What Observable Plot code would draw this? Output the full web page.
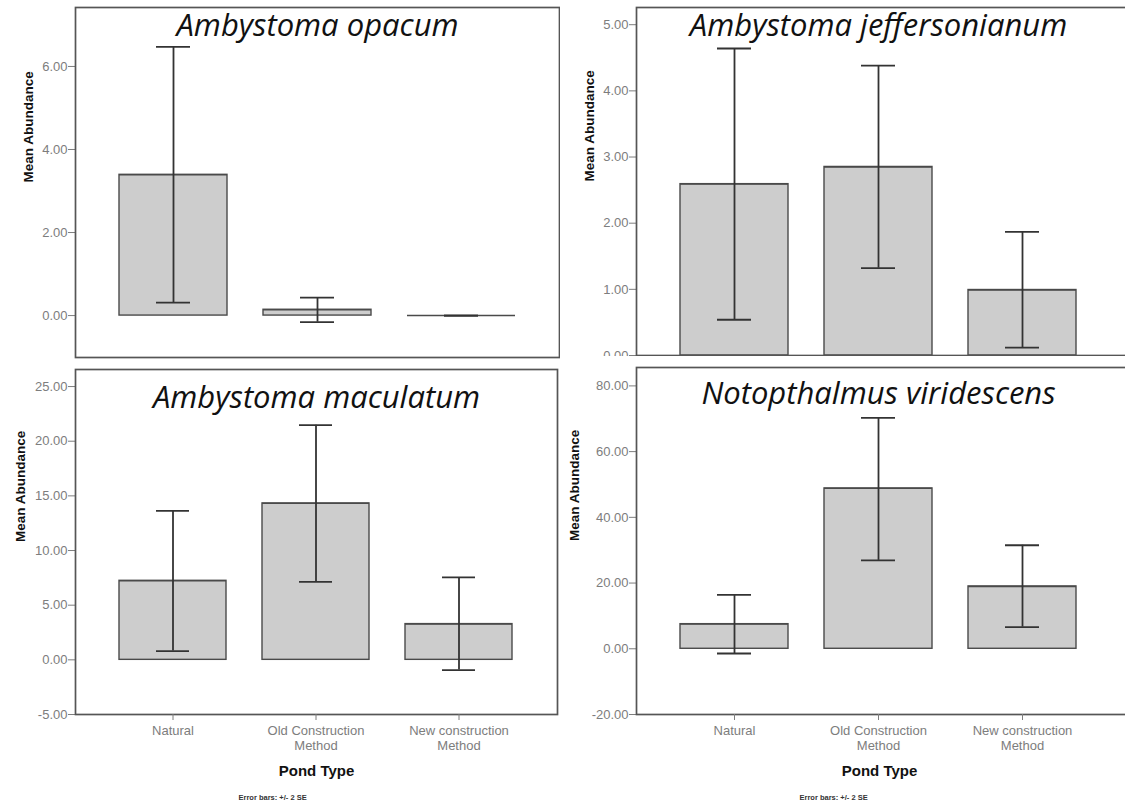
<!DOCTYPE html>
<html>
<head>
<meta charset="utf-8">
<script src="https://cdn.jsdelivr.net/npm/d3@7"></script>
<script src="https://cdn.jsdelivr.net/npm/@observablehq/plot@0.6"></script>
<style>
  html, body { margin: 0; padding: 0; background: #fff; overflow: hidden; }
  #root { position: relative; width: 1125px; height: 807px; overflow: hidden; background: #fff; }
  .panel { position: absolute; overflow: hidden; }
  .panel svg { max-width: none !important; }
</style>
</head>
<body>
<div id="root"></div>
<script>
// ---- data ----
const pondTypes = ["Natural", "Old Construction Method", "New construction Method"];
const xTickLabels = ["Natural", "Old Construction\nMethod", "New construction\nMethod"];

const opacumMean  = [3.39, 0.14, 0.00];
const opacumLow   = [0.31, -0.16, 0.00];
const opacumHigh  = [6.47, 0.43, 0.00];

const jeffMean    = [2.59, 2.85, 0.99];
const jeffLow     = [0.54, 1.32, 0.12];
const jeffHigh    = [4.64, 4.38, 1.87];

const macMean     = [7.23, 14.31, 3.27];
const macLow      = [0.80, 7.14, -0.94];
const macHigh     = [13.63, 21.47, 7.54];

const viriMean    = [7.49, 48.8, 18.97];
const viriLow     = [-1.43, 26.9, 6.58];
const viriHigh    = [16.4, 70.3, 31.5];

const titles = ["Ambystoma opacum", "Ambystoma jeffersonianum", "Ambystoma maculatum", "Notopthalmus viridescens"];
const ticks1 = [0, 2, 4, 6];
const ticks2 = [0, 1, 2, 3, 4, 5];
const ticks3 = [-5, 0, 5, 10, 15, 20, 25];
const ticks4 = [-20, 0, 20, 40, 60, 80];
const yLabel = "Mean Abundance";
const xLabel = "Pond Type";
const caption = "Error bars: +/- 2 SE";

function rows(mean, low, high) {
  return pondTypes.map((p, i) => ({pond: p, mean: mean[i], low: low[i], high: high[i]}));
}

function panel(cfg) {
  const data = rows(cfg.mean, cfg.low, cfg.high);
  const marks = [
    Plot.barY(data, {x: "pond", y: "mean", fill: "#cdcdcd", stroke: "#4a4a4a", strokeWidth: 1.4}),
    Plot.tickY(data, {x: "pond", y: "mean", stroke: "#4a4a4a", strokeWidth: 1.4}),
    Plot.ruleX(data, {x: "pond", y1: "low", y2: "high", stroke: "#333", strokeWidth: 1.8}),
    Plot.tickY(data, {x: "pond", y: "low", stroke: "#333", strokeWidth: 1.8, insetLeft: 37, insetRight: 37}),
    Plot.tickY(data, {x: "pond", y: "high", stroke: "#333", strokeWidth: 1.8, insetLeft: 37, insetRight: 37}),
    Plot.axisY({ticks: cfg.yticks, tickFormat: d => d.toFixed(2), tickSize: 7, tickPadding: 1,
                color: "#7d7d7d", fontSize: 13, label: null}),
    Plot.frame({stroke: "#555", strokeWidth: 1.7}),
    Plot.text([cfg.title], {frameAnchor: "top", dy: cfg.titleDy, dx: cfg.titleDx || 0, lineAnchor: "bottom",
               fontSize: 31, fontStyle: "italic", fontFamily: "Open Sans", fill: "#111"}),
    Plot.text([yLabel], {frameAnchor: "left", dx: -cfg.ylabOffset, rotate: -90, fontWeight: "bold",
               fontSize: 13.5, fill: "#111"})
  ];
  if (cfg.bottom) {
    marks.push(
      Plot.axisX({tickSize: 6, tickPadding: 3, color: "#7d7d7d", fontSize: 13, label: null,
                  tickFormat: d => xTickLabels[pondTypes.indexOf(d)], lineHeight: 1.2}),
      Plot.text([xLabel], {frameAnchor: "bottom", dy: 57, dx: cfg.xlabDx || 0, lineAnchor: "middle",
                 fontWeight: "bold", fontSize: 15, fill: "#111"}),
      Plot.text([caption], {frameAnchor: "bottom-left", dx: 163, dy: 83, textAnchor: "start", lineAnchor: "middle",
                 fontWeight: "bold", fontSize: 7.5, fill: "#333"})
    );
  } else {
    marks.push(Plot.axisX({ticks: [], label: null, tickSize: 0}));
  }
  const xOpts = {type: "band", domain: pondTypes, paddingInner: 0.25, paddingOuter: 0.3};
  if (cfg.xrange) xOpts.range = cfg.xrange;
  const chart = Plot.plot({
    width: cfg.width, height: cfg.height,
    marginLeft: cfg.ml, marginRight: cfg.mr, marginTop: cfg.mt, marginBottom: cfg.mb,
    style: {fontFamily: "'Liberation Sans', Arial, sans-serif", background: "transparent", maxWidth: "none"},
    x: xOpts,
    y: {domain: cfg.ydomain},
    marks
  });
  chart.style.maxWidth = "none";
  chart.style.width = cfg.width + "px";
  const div = document.createElement("div");
  div.className = "panel";
  div.style.left = cfg.left + "px";
  div.style.top = cfg.top + "px";
  div.style.width = cfg.clipW + "px";
  div.style.height = cfg.clipH + "px";
  div.appendChild(chart);
  document.getElementById("root").appendChild(div);
}

panel({left: 0, top: 0, clipW: 560, clipH: 360, width: 560, height: 360,
       ml: 75, mr: 1, mt: 7, mb: 3, ydomain: [-1.01, 7.42], yticks: ticks1,
       mean: opacumMean, low: opacumLow, high: opacumHigh, title: titles[0], titleDy: 28, ylabOffset: 47});

panel({left: 560, top: 0, clipW: 565, clipH: 356, width: 580, height: 380,
       ml: 76, mr: 10, mt: 7, mb: 25, ydomain: [0, 5.26], yticks: ticks2, xrange: [76, 560],
       mean: jeffMean, low: jeffLow, high: jeffHigh, title: titles[1], titleDy: 28, titleDx: -5, ylabOffset: 47});

panel({left: 0, top: 360, clipW: 560, clipH: 447, width: 560, height: 447,
       ml: 75, mr: 3, mt: 9, mb: 93, ydomain: [-5, 26.56], yticks: ticks3, bottom: true,
       mean: macMean, low: macLow, high: macHigh, title: titles[2], titleDy: 38, ylabOffset: 55});

panel({left: 560, top: 360, clipW: 565, clipH: 447, width: 580, height: 447,
       ml: 76, mr: 10, mt: 7, mb: 93, ydomain: [-20, 85.6], yticks: ticks4, bottom: true, xrange: [76, 560],
       mean: viriMean, low: viriLow, high: viriHigh, title: titles[3], titleDy: 36, titleDx: -5, xlabDx: -4, ylabOffset: 62});
</script>
</body>
</html>
